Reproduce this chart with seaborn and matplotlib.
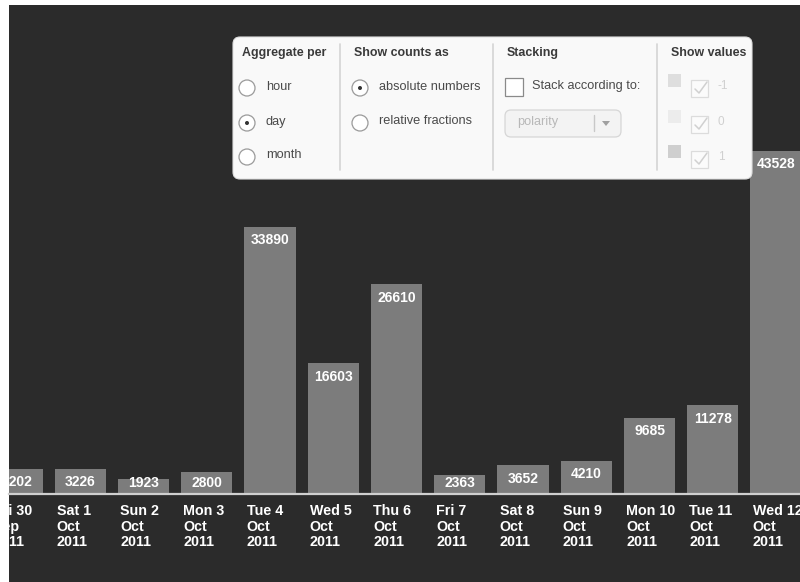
import matplotlib
matplotlib.use("Agg")
import matplotlib.pyplot as plt
from matplotlib.patches import Rectangle, FancyBboxPatch, Circle, Polygon
from matplotlib.transforms import ScaledTranslation
import seaborn as sns
import pandas as pd

# Daily message counts
days = ["Fri 30", "Sat 1", "Sun 2", "Mon 3", "Tue 4", "Wed 5", "Thu 6",
        "Fri 7", "Sat 8", "Sun 9", "Mon 10", "Tue 11", "Wed 12"]
months = ["Sep"] + ["Oct"] * 12
years = ["2011"] * 13
counts = [3202, 3226, 1923, 2800, 33890, 16603, 26610,
          2363, 3652, 4210, 9685, 11278, 43528]

labels = [f"{d}\n{m}\n{y}" for d, m, y in zip(days, months, years)]
df = pd.DataFrame({"day": labels, "count": counts})

BG = "#2b2b2b"
BAR = "#7c7c7c"
NUM_FONT = ["Liberation Sans Narrow", "Liberation Sans"]
UI_FONT = ["Liberation Sans", "DejaVu Sans"]

sns.set_theme(style="dark")
W, H = 800, 582
fig = plt.figure(figsize=(W / 100, H / 100), dpi=100, facecolor="white")

# dark canvas behind the chart
fig.add_artist(Rectangle((9 / W, 0), 1, (H - 5) / H, transform=fig.transFigure,
                         facecolor=BG, edgecolor="none", zorder=-10))

ax = fig.add_axes([9 / W, (H - 494) / H, (W - 9) / W, (494 - 5) / H])
ax.set_facecolor("none")
sns.barplot(data=df, x="day", y="count", color=BAR, saturation=1,
            width=0.81, ax=ax, zorder=2, edgecolor="none", linewidth=0)

px_per_unit = 0.00788
units_per_px = 1 / px_per_unit
ax.set_xlim((9 - 17) / 63.25, (W - 17) / 63.25)
ax.set_ylim(0, (494 - 5) * units_per_px)

for i, v in enumerate(counts):
    y = max(v - 13.5 * units_per_px, 11 * units_per_px)
    ax.text(i, y, str(v), ha="center", va="center", color="white",
            fontsize=10, fontweight="bold", family=NUM_FONT, zorder=3)

for s in ["top", "left", "right"]:
    ax.spines[s].set_visible(False)
ax.spines["bottom"].set_color("#cfcfcf")
ax.spines["bottom"].set_linewidth(1.6)
ax.spines["bottom"].set_zorder(4)
ax.set_xlabel("")
ax.set_ylabel("")
ax.set_yticks([])
ax.tick_params(axis="x", length=0, pad=7.5)
ax.grid(False)
shift = ScaledTranslation(-23.5 / 100, 0, fig.dpi_scale_trans)
for lab in ax.get_xticklabels():
    lab.set_horizontalalignment("left")
    lab.set_color("white")
    lab.set_fontsize(10.3)
    lab.set_fontweight("bold")
    lab.set_family(NUM_FONT)
    lab.set_linespacing(1.1)
    lab.set_transform(lab.get_transform() + shift)

# settings panel
ui = fig.add_axes([0, 0, 1, 1], zorder=5)
ui.set_xlim(0, W)
ui.set_ylim(H, 0)
ui.axis("off")
ui.set_facecolor("none")

ui.add_patch(FancyBboxPatch((233, 37), 519, 142, boxstyle="round,pad=0,rounding_size=7",
                            facecolor="#f9f9f9", edgecolor="#e0e0e0", lw=0.8))
for x in (340, 493, 657):
    ui.plot([x, x], [44, 170], color="#d4d4d4", lw=1.2)

HEAD = dict(color="#3a3a3a", fontsize=8.9, family=UI_FONT, va="center", ha="left",
            fontweight="semibold")
TXT = dict(color="#4a4a4a", fontsize=9.2, family=UI_FONT, va="center", ha="left")

ui.text(242, 53, "Aggregate per", **HEAD)
ui.text(354, 53, "Show counts as", **HEAD)
ui.text(507, 53, "Stacking", **HEAD)
ui.text(671, 53, "Show values", **HEAD)


def radio(x, y, on):
    ui.add_patch(Circle((x, y), 8, facecolor="white", edgecolor="#9a9a9a", lw=0.9))
    if on:
        ui.add_patch(Circle((x, y), 2, facecolor="#333333", edgecolor="none"))


for y, t, on in [(88, "hour", False), (123, "day", True), (157, "month", False)]:
    radio(247, y, on)
    ui.text(266, y - 1.5, t, **TXT)
for y, t, on in [(88, "absolute numbers", True), (123, "relative fractions", False)]:
    radio(360, y, on)
    ui.text(379, y - 1.5, t, **TXT)

ui.add_patch(Rectangle((505, 78), 18, 18, facecolor="white", edgecolor="#8a8a8a", lw=0.9))
ui.text(532, 86, "Stack according to:", **TXT)
ui.add_patch(FancyBboxPatch((505, 110), 116, 27, boxstyle="round,pad=0,rounding_size=6",
                            facecolor="#f3f3f3", edgecolor="#d6d6d6", lw=0.9))
ui.text(517, 122, "polarity", color="#b8b8b8", fontsize=9.2, family=UI_FONT,
        va="center", ha="left")
ui.plot([594, 594], [115, 131], color="#c8c8c8", lw=1)
ui.add_patch(Polygon([[602, 121], [610, 121], [606, 126]], closed=True,
                     facecolor="#a0a0a0", edgecolor="none"))

for y0, sw, t in [(74, "#dedede", "-1"), (110, "#ececec", "0"), (145, "#cfcfcf", "1")]:
    ui.add_patch(Rectangle((668, y0), 13, 13, facecolor=sw, edgecolor="none"))
    cy = y0 + 6
    ui.add_patch(Rectangle((691, cy), 17, 17, facecolor="#fbfbfb", edgecolor="#dcdcdc", lw=0.9))
    ui.plot([695, 699, 707], [cy + 9, cy + 13, cy + 2], color="#d0d0d0", lw=1.1)
    ui.text(718, cy + 6, t, color="#d0d0d0", fontsize=8.5, family=UI_FONT,
            va="center", ha="left")

fig.savefig("out.png", dpi=100, facecolor=fig.get_facecolor())
